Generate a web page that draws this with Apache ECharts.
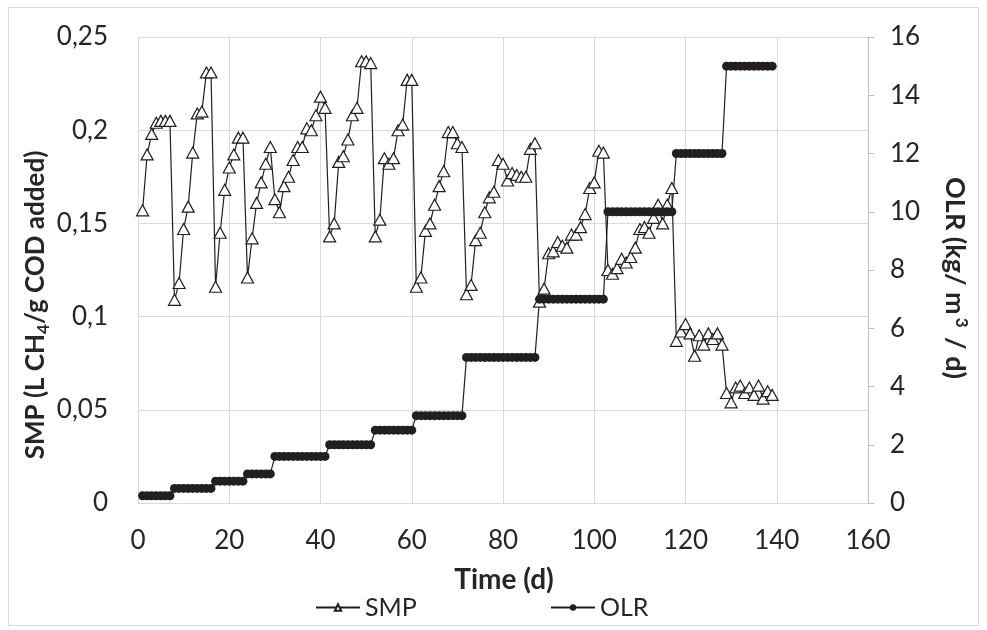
<!DOCTYPE html>
<html>
<head>
<meta charset="utf-8">
<script src="https://cdn.jsdelivr.net/npm/echarts@6/dist/echarts.min.js"></script>
<style>html,body{margin:0;padding:0;background:#fff;}#c{width:987px;height:630px;}</style>
</head>
<body>
<div id="c"></div>
<script>
var days = [1,2,3,4,5,6,7,8,9,10,11,12,13,14,15,16,17,18,19,20,21,22,23,24,25,26,27,28,29,30,
31,32,33,34,35,36,37,38,39,40,41,42,43,44,45,46,47,48,49,50,51,52,53,54,55,56,57,58,59,60,
61,62,63,64,65,66,67,68,69,70,71,72,73,74,75,76,77,78,79,80,81,82,83,84,85,86,87,88,89,90,
91,92,93,94,95,96,97,98,99,100,101,102,103,104,105,106,107,108,109,110,111,112,113,114,115,116,117,118,119,120,
121,122,123,124,125,126,127,128,129,130,131,132,133,134,135,136,137,138,139];

var smp = [
0.157,0.187,0.198,0.204,0.205,0.205,0.205,0.109,0.118,0.147,
0.159,0.188,0.209,0.210,0.231,0.231,0.116,0.145,0.168,0.180,
0.187,0.196,0.196,0.121,0.142,0.161,0.172,0.182,0.191,0.163,
0.156,0.170,0.175,0.184,0.191,0.191,0.201,0.200,0.208,0.218,
0.212,0.143,0.150,0.183,0.186,0.195,0.208,0.212,0.237,0.237,
0.236,0.143,0.152,0.185,0.182,0.185,0.200,0.203,0.227,0.227,
0.116,0.121,0.146,0.150,0.160,0.170,0.178,0.199,0.199,0.193,
0.191,0.112,0.117,0.141,0.145,0.156,0.164,0.167,0.184,0.182,
0.173,0.177,0.176,0.175,0.175,0.190,0.193,0.108,0.115,0.134,
0.135,0.140,0.138,0.137,0.144,0.144,0.148,0.155,0.169,0.172,
0.189,0.188,0.125,0.123,0.126,0.131,0.129,0.132,0.137,0.147,
0.148,0.145,0.153,0.160,0.150,0.160,0.169,0.087,0.092,0.096,
0.091,0.079,0.090,0.085,0.091,0.088,0.091,0.085,0.059,0.054,
0.062,0.063,0.059,0.062,0.058,0.063,0.056,0.060,0.058];

var olr = [
0.25,0.25,0.25,0.25,0.25,0.25,0.25,
0.5,0.5,0.5,0.5,0.5,0.5,0.5,0.5,0.5,
0.75,0.75,0.75,0.75,0.75,0.75,0.75,
1,1,1,1,1,1,
1.6,1.6,1.6,1.6,1.6,1.6,1.6,1.6,1.6,1.6,1.6,1.6,
2,2,2,2,2,2,2,2,2,2,
2.5,2.5,2.5,2.5,2.5,2.5,2.5,2.5,2.5,
3,3,3,3,3,3,3,3,3,3,3,
5,5,5,5,5,5,5,5,5,5,5,5,5,5,5,5,
7,7,7,7,7,7,7,7,7,7,7,7,7,7,7,
10,10,10,10,10,10,10,10,10,10,10,10,10,10,10,
12,12,12,12,12,12,12,12,12,12,12,
15,15,15,15,15,15,15,15,15,15,15];

var xTicks = [0,20,40,60,80,100,120,140,160];
var yLeftTicks = [0,0.05,0.1,0.15,0.2,0.25];
var yRightTicks = [0,2,4,6,8,10,12,14,16];

var FONT = 'Lato, "Open Sans", sans-serif';
var TXT = '#262626';
var GRID = '#d9d9d9';

function pairs(xs, ys){ var out=[]; for (var i=0;i<xs.length;i++) out.push([xs[i], ys[i]]); return out; }

var chart = echarts.init(document.getElementById('c'), null, {renderer:'canvas'});
chart.setOption({
  animation: false,
  backgroundColor: '#fff',
  grid: {left: 138, right: 119, top: 37, bottom: 127, containLabel: false},
  xAxis: {
    type: 'value', min: xTicks[0], max: xTicks[xTicks.length-1], interval: 20,
    axisLine: {show: true, lineStyle: {color: GRID, width: 1}},
    axisTick: {show: false},
    splitLine: {show: true, lineStyle: {color: GRID, width: 1}},
    axisLabel: {fontSize: 26, fontFamily: FONT, color: TXT, margin: 25}
  },
  yAxis: [{
    type: 'value', min: yLeftTicks[0], max: yLeftTicks[yLeftTicks.length-1], interval: 0.05,
    axisLine: {show: false}, axisTick: {show: false},
    splitLine: {show: true, lineStyle: {color: GRID, width: 1}},
    axisLabel: {fontSize: 26, fontFamily: FONT, color: TXT, margin: 30,
      formatter: function(v){ return String(+v.toFixed(2)).replace('.', ','); }}
  },{
    type: 'value', position: 'right', min: yRightTicks[0], max: yRightTicks[yRightTicks.length-1], interval: 2,
    axisLine: {show: true, lineStyle: {color: '#bfbfbf', width: 1}},
    axisTick: {show: true, inside: false, length: 6, lineStyle: {color: '#bfbfbf'}},
    splitLine: {show: false},
    axisLabel: {fontSize: 26, fontFamily: FONT, color: TXT, margin: 22}
  }],
  legend: [{
    data: ['SMP'], left: 310, top: 590, itemWidth: 44, itemHeight: 8, itemGap: 0,
    textStyle: {fontSize: 25, fontFamily: FONT, color: TXT}
  },{
    data: ['OLR'], left: 545, top: 590, itemWidth: 44, itemHeight: 8, itemGap: 0,
    textStyle: {fontSize: 25, fontFamily: FONT, color: TXT}
  }],
  series: [{
    name: 'SMP', type: 'line', xAxisIndex: 0, yAxisIndex: 0,
    data: pairs(days, smp),
    symbol: 'triangle', symbolSize: [12, 11],
    lineStyle: {color: '#231f20', width: 1.2},
    itemStyle: {color: '#fff', borderColor: '#231f20', borderWidth: 1.2}
  },{
    name: 'OLR', type: 'line', xAxisIndex: 0, yAxisIndex: 1,
    data: pairs(days, olr),
    symbol: 'circle', symbolSize: 9,
    lineStyle: {color: '#231f20', width: 1.2},
    itemStyle: {color: '#231f20', borderColor: '#231f20', borderWidth: 0}
  }],
  graphic: [
    {type: 'rect', shape: {x: 8.5, y: 7.5, width: 970, height: 618}, style: {fill: 'none', stroke: GRID, lineWidth: 1}, silent: true, z: -1},
    {type: 'text', x: 504, y: 580, silent: true,
      style: {text: 'Time (d)', fontSize: 28, fontWeight: 'bold', fontFamily: FONT, fill: TXT, align: 'center', verticalAlign: 'middle'}},
    {type: 'text', x: 36, y: 305, rotation: Math.PI/2, silent: true,
      style: {text: '{b|SMP (L CH}{s|4}{b|/g COD added)}', align: 'center', verticalAlign: 'middle',
        rich: {
          b: {fontSize: 26, fontWeight: 'bold', fontFamily: FONT, fill: TXT, lineHeight: 32},
          s: {fontSize: 17, fontWeight: 'bold', fontFamily: FONT, fill: TXT, verticalAlign: 'bottom', lineHeight: 32}
        }}},
    {type: 'text', x: 955, y: 278, rotation: -Math.PI/2, silent: true,
      style: {text: '{b|OLR (kg/ m}{s|3}{b| / d)}', align: 'center', verticalAlign: 'middle',
        rich: {
          b: {fontSize: 27, fontWeight: 'bold', fontFamily: FONT, fill: TXT, lineHeight: 30},
          s: {fontSize: 17, fontWeight: 'bold', fontFamily: FONT, fill: TXT, verticalAlign: 'top', lineHeight: 30, padding: [0, 3, 0, 3]}
        }}}
  ]
});
</script>
</body>
</html>
